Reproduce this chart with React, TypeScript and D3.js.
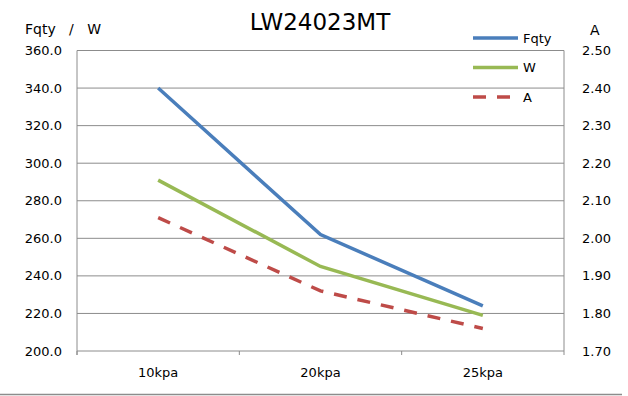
import React from 'react'
import { scaleLinear, scaleBand, line } from 'd3'

const categories = ['10kpa', '20kpa', '25kpa']
const fqty = [340, 262, 224]
const watt = [291, 245, 219]
const amp = [2.055, 1.86, 1.76]
const leftTicks = [200, 220, 240, 260, 280, 300, 320, 340, 360]
const rightTicks = [1.7, 1.8, 1.9, 2.0, 2.1, 2.2, 2.3, 2.4, 2.5]

const width = 628
const height = 396
const left = 77
const right = 564
const top = 50.5
const bottom = 351
const font = 'DejaVu Sans, sans-serif'

const App = () => {
  const x = scaleBand().domain(categories).range([left, right])
  const yl = scaleLinear().domain([200, 360]).range([bottom, top])
  const yr = scaleLinear().domain([1.7, 2.5]).range([bottom, top])
  const cx = (c: string) => (x(c) ?? 0) + x.bandwidth() / 2

  const leftLine = line<number>().x((d, i) => cx(categories[i])).y(d => yl(d))
  const rightLine = line<number>().x((d, i) => cx(categories[i])).y(d => yr(d))

  const series = [
    { name: 'Fqty', path: leftLine(fqty), color: '#4a7ebb', dash: undefined },
    { name: 'W', path: leftLine(watt), color: '#98b954', dash: undefined },
    { name: 'A', path: rightLine(amp), color: '#be4b48', dash: '13,11' },
  ]

  const grid = leftTicks.map(t => (
    <g key={t}>
      <line x1={left} x2={right} y1={yl(t)} y2={yl(t)} stroke='#8c8c8c' strokeWidth={1} />
      <text x={62} y={yl(t)} dy='0.35em' textAnchor='end' fontSize='13px' fontFamily={font}>{t.toFixed(1)}</text>
    </g>
  ))

  const rightLabels = rightTicks.map(t => (
    <text key={t} x={582} y={yr(t)} dy='0.35em' fontSize='13px' fontFamily={font}>{t.toFixed(2)}</text>
  ))

  const xTicks = [left, ...categories.map(c => (x(c) ?? 0) + x.bandwidth())].map((v, i) => (
    <line key={i} x1={v} x2={v} y1={bottom} y2={bottom + 4} stroke='#8c8c8c' />
  ))

  const xLabels = categories.map(c => (
    <text key={c} x={cx(c)} y={372} dy='0.35em' textAnchor='middle' fontSize='13px' fontFamily={font}>{c}</text>
  ))

  const legend = series.map((s, i) => (
    <g key={s.name} transform={`translate(473, ${38 + i * 29.5})`}>
      <line x1={0} x2={45} y1={0} y2={0} stroke={s.color} strokeWidth={3.5} strokeDasharray={s.dash} />
      <text x={50} y={0} dy='0.35em' fontSize='13px' fontFamily={font}>{s.name}</text>
    </g>
  ))

  return (
    <svg width={width} height={height} style={{ position: 'absolute', left: 0, top: 0, background: '#fff' }}>
      <rect width={width} height={height} fill='#fff' />
      {grid}
      <line x1={left} x2={left} y1={top} y2={bottom + 4} stroke='#8c8c8c' />
      <line x1={right} x2={right} y1={top} y2={bottom} stroke='#8c8c8c' />
      {xTicks}
      {series.map(s => (
        <path key={s.name} d={s.path ?? ''} fill='none' stroke={s.color} strokeWidth={3.5} strokeDasharray={s.dash} />
      ))}
      {rightLabels}
      {xLabels}
      {legend}
      <text x={320} y={22} dy='0.35em' textAnchor='middle' fontSize='23px' fontFamily={font}>LW24023MT</text>
      <text x={25} y={29} dy='0.35em' fontSize='14px' fontFamily={font} xmlSpace='preserve'>Fqty   /   W</text>
      <text x={590} y={30} dy='0.35em' fontSize='14px' fontFamily={font}>A</text>
      <line x1={0} x2={622} y1={394.5} y2={394.5} stroke='#8c8c8c' strokeWidth={1.5} />
    </svg>
  )
}

export default App
